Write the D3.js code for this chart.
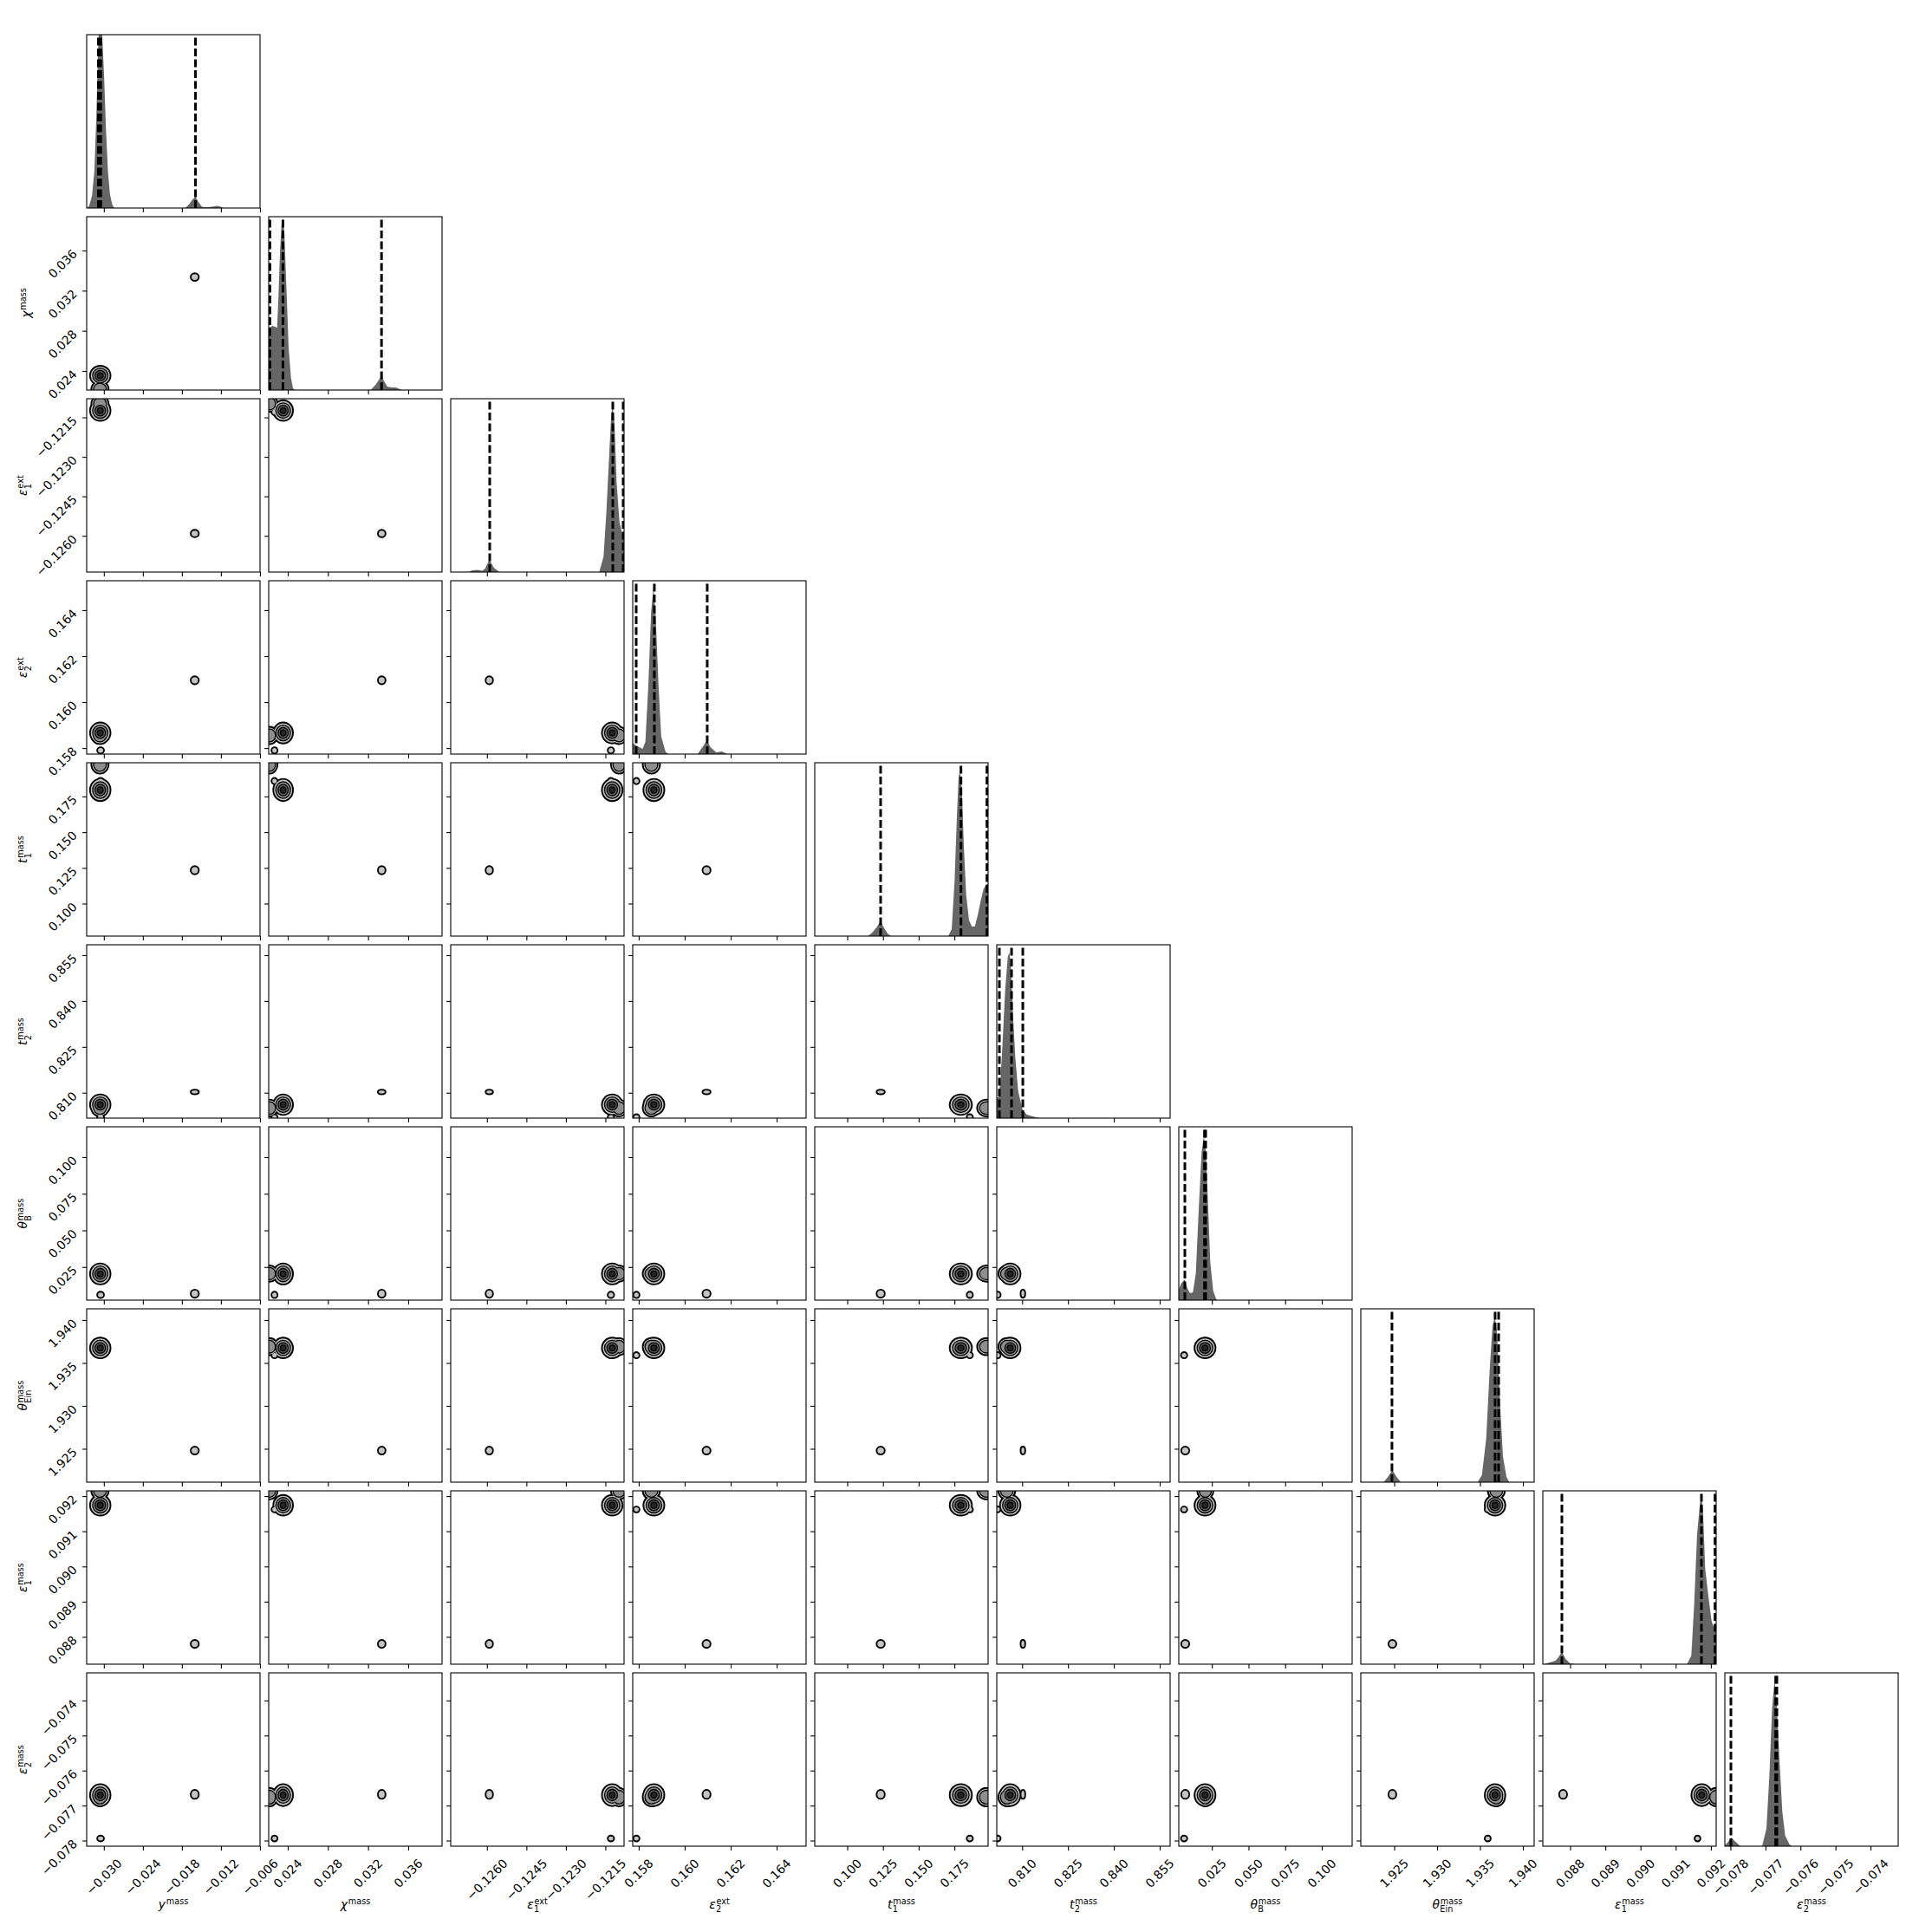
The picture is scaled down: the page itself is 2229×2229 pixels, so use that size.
<!DOCTYPE html>
<html><head><meta charset="utf-8">
<script src="https://cdn.jsdelivr.net/npm/d3@7"></script>
<style>body{margin:0;background:#fff}svg{display:block}</style>
</head><body>
<svg id="chart" width="2229" height="2229"></svg>
<script>
// ---------- data ----------
const paramSymbols = ["y","χ","ε","ε","t","t","θ","θ","ε","ε"];
const paramSubs    = ["","","1","2","1","2","B","Ein","1","2"];
const paramSups    = ["mass","mass","ext","ext","mass","mass","mass","mass","mass","mass"];

const domainLo = [-0.03264, 0.02210, -0.127376, 0.15774, 0.07725, 0.80170, 0.00240, 1.92111, 0.087224, -0.07816];
const domainHi = [-0.00599, 0.03937, -0.120790, 0.16528, 0.19860, 0.85840, 0.12070, 1.94131, 0.092150, -0.07321];

const tickValues = [
  [-0.030,-0.024,-0.018,-0.012,-0.006],
  [0.024,0.028,0.032,0.036],
  [-0.1260,-0.1245,-0.1230,-0.1215],
  [0.158,0.160,0.162,0.164],
  [0.100,0.125,0.150,0.175],
  [0.810,0.825,0.840,0.855],
  [0.025,0.050,0.075,0.100],
  [1.925,1.930,1.935,1.940],
  [0.088,0.089,0.090,0.091,0.092],
  [-0.078,-0.077,-0.076,-0.075,-0.074]
];
const tickDecimals = [3,3,4,3,3,3,3,3,3,3];

// quantile (dashed) lines: 16%, 50%, 84%
const quantileLines = [
  [-0.03084,-0.03048,-0.01591],
  [0.02222,0.02352,0.03334],
  [-0.125894,-0.121218,-0.120823],
  [0.15789,0.15868,0.16098],
  [0.12336,0.17959,0.19779],
  [0.80255,0.80653,0.81022],
  [0.00654,0.01995,0.02074],
  [1.92474,1.93676,1.93717],
  [0.087766,0.091731,0.092117],
  [-0.077987,-0.076708,-0.076675]
];

// 1D marginal outlines: [value, height as fraction of panel]
const histYmass = [[-0.03257,0],[-0.03226,0.013],[-0.03182,0.07],[-0.03146,0.21],[-0.03115,0.53],[-0.03093,0.86],[-0.03080,1.0],[-0.03026,1.0],[-0.02995,0.75],[-0.02968,0.46],[-0.02937,0.21],[-0.02906,0.08],[-0.02871,0.02],[-0.02840,0],
  [-0.01751,0],[-0.01693,0.02],[-0.01635,0.05],[-0.01591,0.065],[-0.01547,0.035],[-0.01493,0.008],[-0.01427,0.004],[-0.01337,0.008],[-0.01261,0.013],[-0.01204,0.008],[-0.01160,0]];
const histXmass = [[0.02210,0.36],[0.02251,0.37],[0.02294,0.36],[0.02308,0.55],[0.02323,0.8],[0.02337,0.95],[0.02352,0.99],[0.02366,0.91],[0.02380,0.69],[0.02395,0.46],[0.02409,0.24],[0.02432,0.07],[0.02452,0.01],[0.02473,0],
  [0.03225,0],[0.03274,0.03],[0.03309,0.06],[0.03332,0.08],[0.03361,0.05],[0.03390,0.02],[0.03433,0.015],[0.03476,0.015],[0.03519,0.005],[0.03539,0]];
const histE1ext = [[-0.126695,0],[-0.126564,0.01],[-0.126344,0.012],[-0.126179,0.008],[-0.126070,0.02],[-0.125905,0.072],[-0.125740,0.025],[-0.125521,0],
  [-0.121734,0],[-0.121569,0.09],[-0.121459,0.355],[-0.121350,0.69],[-0.121273,0.92],[-0.121218,0.947],[-0.121152,0.855],[-0.121075,0.52],[-0.120965,0.29],[-0.120856,0.22],[-0.120790,0.19]];
const histE2ext = [[0.15774,0.063],[0.15792,0.047],[0.15817,0.03],[0.15829,0.07],[0.15842,0.4],[0.15854,0.82],[0.15864,0.955],[0.15873,0.82],[0.15886,0.4],[0.15898,0.1],[0.15917,0.013],[0.15930,0],
  [0.16056,0],[0.16081,0.047],[0.16097,0.08],[0.16112,0.04],[0.16137,0.01],[0.16162,0.015],[0.16187,0]];
const histT1mass = [[0.11446,0],[0.11750,0.02],[0.12053,0.05],[0.12316,0.085],[0.12559,0.05],[0.12822,0.015],[0.13064,0],
  [0.17069,0],[0.17312,0.04],[0.17514,0.32],[0.17676,0.69],[0.17797,0.92],[0.17898,0.947],[0.18020,0.855],[0.18161,0.52],[0.18323,0.24],[0.18525,0.09],[0.18727,0.055],[0.18930,0.055],[0.19132,0.12],[0.19334,0.2],[0.19536,0.27],[0.19738,0.30],[0.19860,0.30]];
const histT2mass = [[0.80170,0.12],[0.80227,0.12],[0.80284,0.2],[0.80350,0.4],[0.80445,0.74],[0.80530,0.93],[0.80578,0.955],[0.80625,0.9],[0.80700,0.6],[0.80776,0.35],[0.80871,0.155],[0.81013,0.047],[0.81155,0.02],[0.81344,0.01],[0.81581,0]];
const histThetaB = [[0.0024,0.063],[0.00417,0.097],[0.00654,0.12],[0.00812,0.07],[0.01009,0.04],[0.01206,0.045],[0.01403,0.155],[0.01600,0.52],[0.01798,0.855],[0.01955,0.947],[0.02093,0.855],[0.02251,0.52],[0.02389,0.22],[0.02586,0.055],[0.02784,0.008],[0.02882,0]];
const histThetaEin = [[1.92377,0],[1.92427,0.03],[1.92478,0.07],[1.92528,0.03],[1.92579,0],
  [1.93471,0],[1.93522,0.04],[1.93572,0.25],[1.93613,0.65],[1.93646,0.9],[1.93673,0.955],[1.93700,0.85],[1.93734,0.45],[1.93767,0.15],[1.93808,0.03],[1.93841,0]];
const histE1mass = [[0.087257,0],[0.087421,0.01],[0.087585,0.02],[0.087667,0.04],[0.087766,0.07],[0.087872,0.03],[0.087996,0.005],[0.088143,0],
  [0.091320,0],[0.091444,0.05],[0.091526,0.35],[0.091608,0.75],[0.091690,0.93],[0.091731,0.96],[0.091772,0.9],[0.091838,0.55],[0.091936,0.38],[0.092018,0.25],[0.092100,0.2],[0.092150,0.2]];
const histE2mass = [[-0.07816,0.005],[-0.078086,0.02],[-0.077978,0.05],[-0.077880,0.03],[-0.077715,0],
  [-0.077096,0],[-0.076973,0.1],[-0.076890,0.4],[-0.076808,0.8],[-0.076741,0.955],[-0.076684,0.85],[-0.076601,0.5],[-0.076519,0.2],[-0.076436,0.06],[-0.076312,0.01],[-0.076246,0]];

// 2D posterior modes: centre and outer-contour half width per parameter
const modeCenterA = [-0.03055, 0.02354, -0.12124, 0.15866, 0.17950, 0.80610, 0.02030, 1.93675, 0.09174, -0.07670];
const modeSpreadA = [0.00145, 0.00090, 0.00036, 0.00042, 0.0072, 0.0031, 0.0066, 0.00110, 0.00027, 0.00029];
const modeCenterB = [-0.01602, 0.03336, -0.12591, 0.16095, 0.12340, 0.81025, 0.00680, 1.92479, 0.08780, -0.07668];
const modeSpreadB = [0.00050, 0.00030, 0.00011, 0.00014, 0.0023, 0.0005, 0.0022, 0.00036, 0.00009, 0.000105];
const modeCenterC = [-0.03050, 0.02268, -0.12129, 0.15790, 0.18580, 0.80200, 0.00600, 1.93590, 0.09162, -0.07794];
const modeSpreadC = [0.00040, 0.00022, 0.00009, 0.00010, 0.0016, 0.0007, 0.0016, 0.00026, 0.00006, 0.00006];
const modeCenterD = [-0.03060, 0.02220, -0.12098, 0.15855, 0.19750, 0.80500, 0.02050, 1.93690, 0.09215, -0.07676];
const modeSpreadD = [0.00120, 0.00070, 0.00028, 0.00034, 0.0060, 0.0025, 0.0050, 0.00090, 0.00022, 0.00024];
const modeLevels = [4, 1, 1, 2];

// ---------- layout / style ----------
const hists = [histYmass, histXmass, histE1ext, histE2ext, histT1mass, histT2mass, histThetaB, histThetaEin, histE1mass, histE2mass];
const modes = [
  {c: modeCenterA, s: modeSpreadA, n: modeLevels[0]},
  {c: modeCenterB, s: modeSpreadB, n: modeLevels[1]},
  {c: modeCenterC, s: modeSpreadC, n: modeLevels[2]},
  {c: modeCenterD, s: modeSpreadD, n: modeLevels[3]}
];
const levelFrac = [1, 0.75, 0.5, 0.25];
const levelFill = ["#c4c4c4", "#8e8e8e", "#5c5c5c", "#262626"];
const N = 10, L0 = 100, T0 = 40, P = 200, G = 10;
const FS = 13.9, FONT = "DejaVu Sans";
const TICK = 4.9;

const svg = d3.select("#chart");
svg.append("rect").attr("width",2229).attr("height",2229).attr("fill","#fff");
const defs = svg.append("defs");

function xScaleFor(j){ const px = L0 + j*(P+G); return d3.scaleLinear().domain([domainLo[j], domainHi[j]]).range([px, px+P]); }
function yScaleFor(i){ const py = T0 + i*(P+G); return d3.scaleLinear().domain([domainLo[i], domainHi[i]]).range([py+P, py]); }

for (let i = 0; i < N; i++) {
  for (let j = 0; j <= i; j++) {
    const px = L0 + j*(P+G), py = T0 + i*(P+G);
    const id = `clip-${i}-${j}`;
    defs.append("clipPath").attr("id", id).append("rect").attr("x", px).attr("y", py).attr("width", P).attr("height", P);
    const g = svg.append("g");
    const content = g.append("g").attr("clip-path", `url(#${id})`);
    const x = xScaleFor(j);
    if (i === j) {
      const y = d3.scaleLinear().domain([0, 1]).range([py+P, py]);
      content.append("path").datum(hists[i])
        .attr("d", d3.area().x(d => x(d[0])).y0(y(0)).y1(d => y(d[1])))
        .attr("fill", "#666666");
      quantileLines[i].forEach(q => {
        content.append("line").attr("x1", x(q)).attr("x2", x(q)).attr("y1", y(0)).attr("y2", y(1))
          .attr("stroke", "#000").attr("stroke-width", 3).attr("stroke-dasharray", "9,3.5");
      });
    } else {
      const y = yScaleFor(i);
      for (let L = 0; L < 4; L++) {
        const active = modes.filter(m => m.n > L);
        const ell = active.map(m => ({
          cx: x(m.c[j]), cy: y(m.c[i]),
          rx: Math.abs(x(m.c[j] + m.s[j]) - x(m.c[j])) * levelFrac[L],
          ry: Math.abs(y(m.c[i] + m.s[i]) - y(m.c[i])) * levelFrac[L]
        }));
        const sw = L === 0 ? 1.9 : 1.3;
        ell.forEach(e => content.append("ellipse").attr("cx", e.cx).attr("cy", e.cy)
          .attr("rx", e.rx).attr("ry", e.ry).attr("fill", "#000").attr("stroke", "#000").attr("stroke-width", 2*sw));
        ell.forEach(e => content.append("ellipse").attr("cx", e.cx).attr("cy", e.cy)
          .attr("rx", e.rx).attr("ry", e.ry).attr("fill", levelFill[L]));
      }
      // y ticks
      const ya = g.append("g").attr("transform", `translate(${px},0)`)
        .call(d3.axisLeft(y).tickValues(tickValues[i]).tickSize(TICK).tickFormat(""));
      ya.select(".domain").remove();
      ya.selectAll("line").attr("stroke", "#000").attr("stroke-width", 1.1);
    }
    const xa = g.append("g").attr("transform", `translate(0,${py+P})`)
      .call(d3.axisBottom(x).tickValues(tickValues[j]).tickSize(TICK).tickFormat(""));
    xa.select(".domain").remove();
    xa.selectAll("line").attr("stroke", "#000").attr("stroke-width", 1.1);
    g.append("rect").attr("x", px).attr("y", py).attr("width", P).attr("height", P)
      .attr("fill", "none").attr("stroke", "#000").attr("stroke-width", 1.1);
  }
}

// ---------- tick labels ----------
function rotatedLabel(str) {
  const lg = svg.append("g");
  lg.append("text").attr("transform", "rotate(-45)").attr("font-family", FONT).attr("font-size", FS)
    .attr("fill", "#000").text(str);
  return lg;
}
const bottomY = T0 + (N-1)*(P+G) + P;
for (let j = 0; j < N; j++) {
  const x = xScaleFor(j);
  const f = d3.format(`.${tickDecimals[j]}f`);
  tickValues[j].forEach(v => {
    const lg = rotatedLabel(f(v));
    const bb = lg.node().getBBox();
    lg.attr("transform", `translate(${x(v) - (bb.x + bb.width/2)},${bottomY + 11.5 - bb.y})`);
  });
}
for (let i = 1; i < N; i++) {
  const y = yScaleFor(i);
  const f = d3.format(`.${tickDecimals[i]}f`);
  tickValues[i].forEach(v => {
    const lg = rotatedLabel(f(v));
    const bb = lg.node().getBBox();
    lg.attr("transform", `translate(${L0 - 8 - (bb.x + bb.width)},${y(v) - 4.5 - bb.y})`);
  });
}

// ---------- axis labels (math style) ----------
function mathLabel(k) {
  const g = svg.append("g");
  const main = g.append("text").attr("font-family", FONT).attr("font-size", FS).attr("font-style", "italic")
    .attr("fill", "#000").text(paramSymbols[k]);
  const mw = main.node().getComputedTextLength();
  const sup = g.append("text").attr("x", mw + 0.8).attr("y", -4.6).attr("font-family", FONT)
    .attr("font-size", FS*0.7).attr("fill", "#000").text(paramSups[k]);
  let w = mw + 0.8 + sup.node().getComputedTextLength();
  if (paramSubs[k]) {
    const sub = g.append("text").attr("x", mw + 0.3).attr("y", 4.8).attr("font-family", FONT)
      .attr("font-size", FS*0.7).attr("fill", "#000").text(paramSubs[k]);
    w = Math.max(w, mw + 0.3 + sub.node().getComputedTextLength());
  }
  return {g, w};
}
for (let j = 0; j < N; j++) {
  const {g, w} = mathLabel(j);
  const cx = L0 + j*(P+G) + P/2;
  g.attr("transform", `translate(${cx - w/2},${bottomY + 71.5})`);
}
for (let i = 1; i < N; i++) {
  const {g} = mathLabel(i);
  const bb = g.node().getBBox();
  const cy = T0 + i*(P+G) + P/2;
  g.attr("transform", `translate(38,${cy}) rotate(-90) translate(${-(bb.x + bb.width/2)},${-(bb.y + bb.height)})`);
}
</script>
</body></html>
